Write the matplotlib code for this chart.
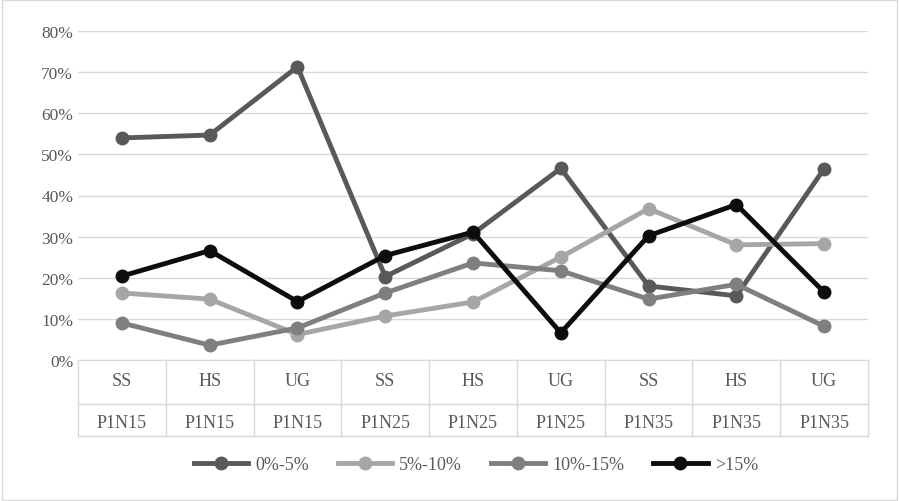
import matplotlib
matplotlib.use("Agg")
import matplotlib.pyplot as plt
from matplotlib.ticker import PercentFormatter
import numpy as np

plt.rcParams['font.family'] = ['Liberation Serif', 'DejaVu Serif']

groups = ['SS', 'HS', 'UG'] * 3
samples = ['P1N15'] * 3 + ['P1N25'] * 3 + ['P1N35'] * 3
s_0_5 = [54.0, 54.7, 71.3, 20.3, 30.7, 46.6, 18.0, 15.6, 46.5]
s_5_10 = [16.3, 14.8, 6.2, 10.7, 14.1, 25.0, 36.8, 28.0, 28.3]
s_10_15 = [9.0, 3.6, 7.8, 16.3, 23.6, 21.7, 14.8, 18.4, 8.2]
s_15 = [20.4, 26.6, 14.2, 25.4, 31.1, 6.6, 30.2, 37.8, 16.5]
series = [('0%-5%', s_0_5, '#595959'), ('5%-10%', s_5_10, '#a6a6a6'),
          ('10%-15%', s_10_15, '#7f7f7f'), ('>15%', s_15, '#0d0d0d')]

fig = plt.figure(figsize=(8.99, 5.02), dpi=100)
fig.patches.append(plt.Rectangle((0.002, 0.002), 0.996, 0.996, transform=fig.transFigure,
                                 fill=False, edgecolor='#d9d9d9', lw=1))
ax = fig.add_axes([78 / 899, 1 - 361 / 502, 790 / 899, 329 / 502])
x = np.arange(len(groups))
for name, vals, c in series:
    ax.plot(x, vals, color=c, lw=3.5, marker='o', ms=9, label=name, zorder=3)

ax.set_xlim(-0.5, 8.5)
ax.set_ylim(0, 80)
ax.set_yticks(range(0, 81, 10))
ax.yaxis.set_major_formatter(PercentFormatter(decimals=0))
ax.grid(axis='y', color='#d9d9d9', lw=1)
ax.set_axisbelow(True)
for s in ['top', 'right', 'left']:
    ax.spines[s].set_visible(False)
ax.spines['bottom'].set_color('#d9d9d9')
ax.tick_params(axis='y', length=0, labelsize=12.5, colors='#595959')
ax.set_xticks([])

tr = ax.get_xaxis_transform()
h = 329
y1 = -44 / h
y2 = -76 / h
for i in range(len(groups)):
    ax.text(i, -21 / h, groups[i], transform=tr, ha='center', va='center', fontsize=13, color='#595959')
    ax.text(i, -63 / h, samples[i], transform=tr, ha='center', va='center', fontsize=13, color='#595959')
for b in np.arange(-0.5, 9, 1):
    ax.plot([b, b], [0, y2], transform=tr, color='#d9d9d9', lw=1, clip_on=False)
ax.plot([-0.5, 8.5], [y1, y1], transform=tr, color='#d9d9d9', lw=1, clip_on=False)
ax.plot([-0.5, 8.5], [y2, y2], transform=tr, color='#d9d9d9', lw=1, clip_on=False)

fig.legend(loc='center', bbox_to_anchor=(476 / 899, 1 - 466 / 502), ncol=4, frameon=False,
           fontsize=13, handlelength=3.0, handletextpad=0.4, columnspacing=1.6,
           labelcolor='#595959')
fig.savefig('out.png', dpi=100)
